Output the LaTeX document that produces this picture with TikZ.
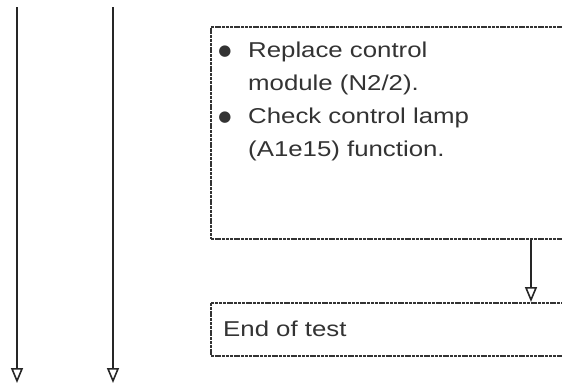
\documentclass[tikz,border=0pt]{standalone}
\usepackage{fontspec}
\setmainfont{Liberation Sans}[FakeStretch=1.2]
\newfontfamily\symfont{DejaVu Sans}
\usetikzlibrary{arrows.meta,calc}
\begin{document}
\begin{tikzpicture}[x=1pt,y=-1pt,
  ln/.style={line width=1.6pt,draw=black!85},
  dline/.style={line width=1.6pt,draw=black!80,dash pattern=on 3pt off 0.8pt},
  tip/.style={-{Triangle[open,length=15pt,width=12pt,line width=1.6pt]}},
  boxstyle/.style={dline,rectangle,inner sep=0pt,anchor=north west},
  txt/.style={font=\fontsize{21.5}{33}\selectfont,text=black!80,anchor=west,inner sep=0pt},
  bul/.style={font=\symfont\fontsize{15}{15}\selectfont,text=black!80,inner sep=0pt}]
\useasboundingbox (0,0) rectangle (562,388);
\clip (0,0) rectangle (562,388);
% left connectors
\coordinate (l1t) at (17,7);
\coordinate (l1b) at (17,383);
\coordinate (l2t) at (113,7);
\coordinate (l2b) at (113,383);
\draw[ln,tip] (l1t) -- (l1b);
\draw[ln,tip] (l2t) -- (l2b);
% box 1
\node[boxstyle,minimum width=380pt,minimum height=212pt] (box1) at (210,26) {};
\node[bul] (b1) at (225,52) {●};
\node[txt] (t1) at (248,52) {Replace control};
\node[txt] (t2) at (248,85) {module (N2/2).};
\node[bul] (b2) at (225,118) {●};
\node[txt] (t3) at (248,118) {Check control lamp};
\node[txt] (t4) at (248,151) {(A1e15) function.};
% box 2
\node[boxstyle,minimum width=380pt,minimum height=53pt] (box2) at (210,302) {};
\node[txt] (t5) at (223,329) {End of test};
% connector
\coordinate (c1) at ($(box1.south west)+(321,0)$);
\coordinate (c2) at ($(box2.north west)+(321,0)$);
\draw[ln,tip] (c1) -- (c2);
\end{tikzpicture}
\end{document}
